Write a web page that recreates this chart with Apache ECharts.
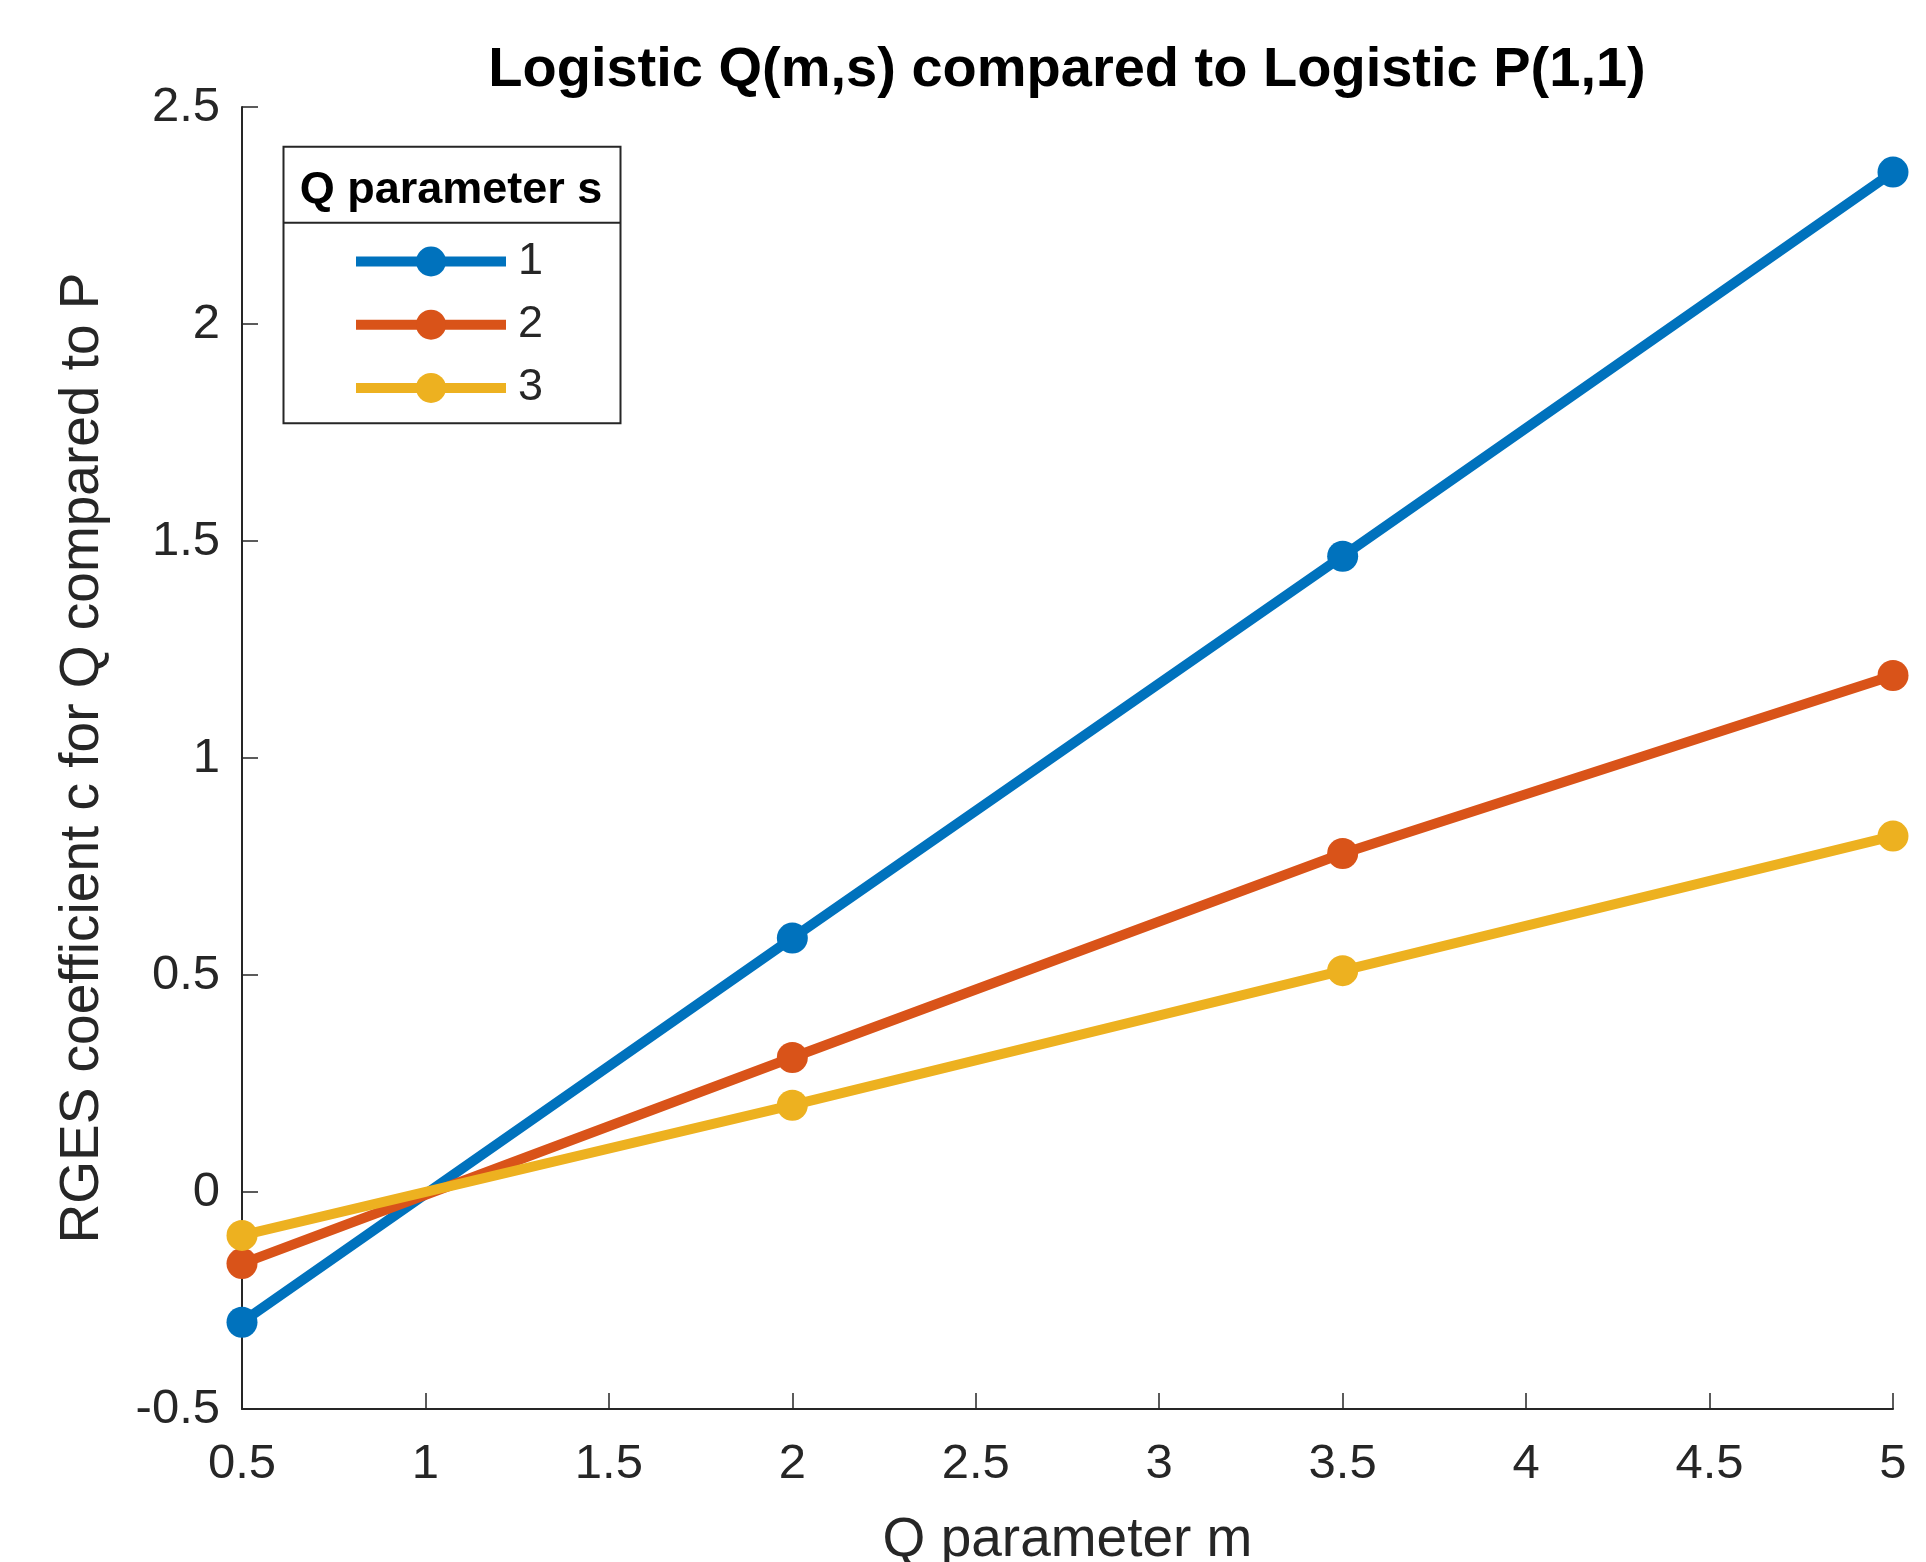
<!DOCTYPE html>
<html>
<head>
<meta charset="utf-8">
<script src="https://cdn.jsdelivr.net/npm/echarts@6/dist/echarts.min.js"></script>
<style>
  html, body { margin: 0; padding: 0; background: #ffffff; overflow: hidden; }
  #chart { width: 1926px; height: 1562px; }
</style>
</head>
<body>
<div id="chart"></div>
<script>
// ---- data ----
var qParamM = [0.5, 2, 3.5, 5];
var seriesNames = ['1', '2', '3'];
var valuesS1 = [-0.30, 0.585, 1.465, 2.35];
var valuesS2 = [-0.165, 0.31, 0.78, 1.19];
var valuesS3 = [-0.10, 0.20, 0.51, 0.82];
var xTicks = [0.5, 1, 1.5, 2, 2.5, 3, 3.5, 4, 4.5, 5];
var yTicks = [-0.5, 0, 0.5, 1, 1.5, 2, 2.5];
var titleText = 'Logistic Q(m,s) compared to Logistic P(1,1)';
var xName = 'Q parameter m';
var yName = 'RGES coefficient c for Q compared to P';
var legendTitle = 'Q parameter s';

var colors = ['#0072BD', '#D95319', '#EDB120'];
var FONT = '"Liberation Sans", Arial, Helvetica, sans-serif';
var INK = '#262626';

function pairs(xs, ys) {
  return xs.map(function (x, i) { return [x, ys[i]]; });
}

var allValues = [valuesS1, valuesS2, valuesS3];

var chart = echarts.init(document.getElementById('chart'), null, { renderer: 'canvas' });

var option = {
  backgroundColor: '#ffffff',
  animation: false,
  textStyle: { fontFamily: FONT },
  color: colors,
  grid: { left: 242, right: 33, top: 107, bottom: 153, containLabel: false, outerBoundsMode: 'none' },
  xAxis: {
    type: 'value',
    min: xTicks[0],
    max: xTicks[xTicks.length - 1],
    interval: 0.5,
    name: xName,
    nameLocation: 'middle',
    nameGap: 104,
    nameTextStyle: { fontSize: 55, color: INK, fontFamily: FONT },
    axisLine: { show: true, onZero: false, lineStyle: { color: INK, width: 2 } },
    axisTick: { show: true, inside: true, length: 16, lineStyle: { color: INK, width: 1.5 } },
    axisLabel: { fontSize: 49, color: INK, margin: 31, fontFamily: FONT },
    splitLine: { show: false }
  },
  yAxis: {
    type: 'value',
    min: yTicks[0],
    max: yTicks[yTicks.length - 1],
    interval: 0.5,
    name: yName,
    nameLocation: 'middle',
    nameGap: 132,
    nameTextStyle: { fontSize: 55, color: INK, fontFamily: FONT },
    axisLine: { show: true, onZero: false, lineStyle: { color: INK, width: 2 } },
    axisTick: { show: true, inside: true, length: 16, lineStyle: { color: INK, width: 1.5 } },
    axisLabel: { fontSize: 49, color: INK, margin: 22, fontFamily: FONT },
    splitLine: { show: false }
  },
  legend: {
    orient: 'vertical',
    left: 351,
    top: 239,
    padding: 0,
    itemWidth: 150,
    itemHeight: 37.5,
    itemGap: 18.2,
    data: seriesNames,
    textStyle: { fontSize: 45, color: INK, fontFamily: FONT, padding: [0, 0, 0, 7] },
    lineStyle: { width: 10 },
    z: 10
  },
  graphic: [
    {
      type: 'rect',
      z: 5,
      shape: { x: 283.5, y: 146.7, width: 337, height: 276.6 },
      style: { fill: '#ffffff', stroke: INK, lineWidth: 2 }
    },
    {
      type: 'line',
      z: 6,
      shape: { x1: 283.5, y1: 222.7, x2: 620.5, y2: 222.7 },
      style: { stroke: INK, lineWidth: 2 }
    },
    {
      type: 'text',
      z: 6,
      style: {
        text: legendTitle,
        x: 451, y: 191,
        fontSize: 45, fontWeight: 'bold', fontFamily: FONT,
        fill: '#000000',
        textAlign: 'center', textVerticalAlign: 'middle'
      }
    },
    {
      type: 'text',
      z: 6,
      style: {
        text: titleText,
        x: 1067, y: 70.5,
        fontSize: 56, fontWeight: 'bold', fontFamily: FONT,
        fill: '#000000',
        textAlign: 'center', textVerticalAlign: 'middle'
      }
    }
  ],
  series: seriesNames.map(function (name, i) {
    return {
      name: name,
      type: 'line',
      data: pairs(qParamM, allValues[i]),
      symbol: 'circle',
      symbolSize: 31,
      showSymbol: true,
      lineStyle: { width: 10, color: colors[i] },
      itemStyle: { color: colors[i] },
      z: 2 + i
    };
  })
};

chart.setOption(option);
</script>
</body>
</html>
